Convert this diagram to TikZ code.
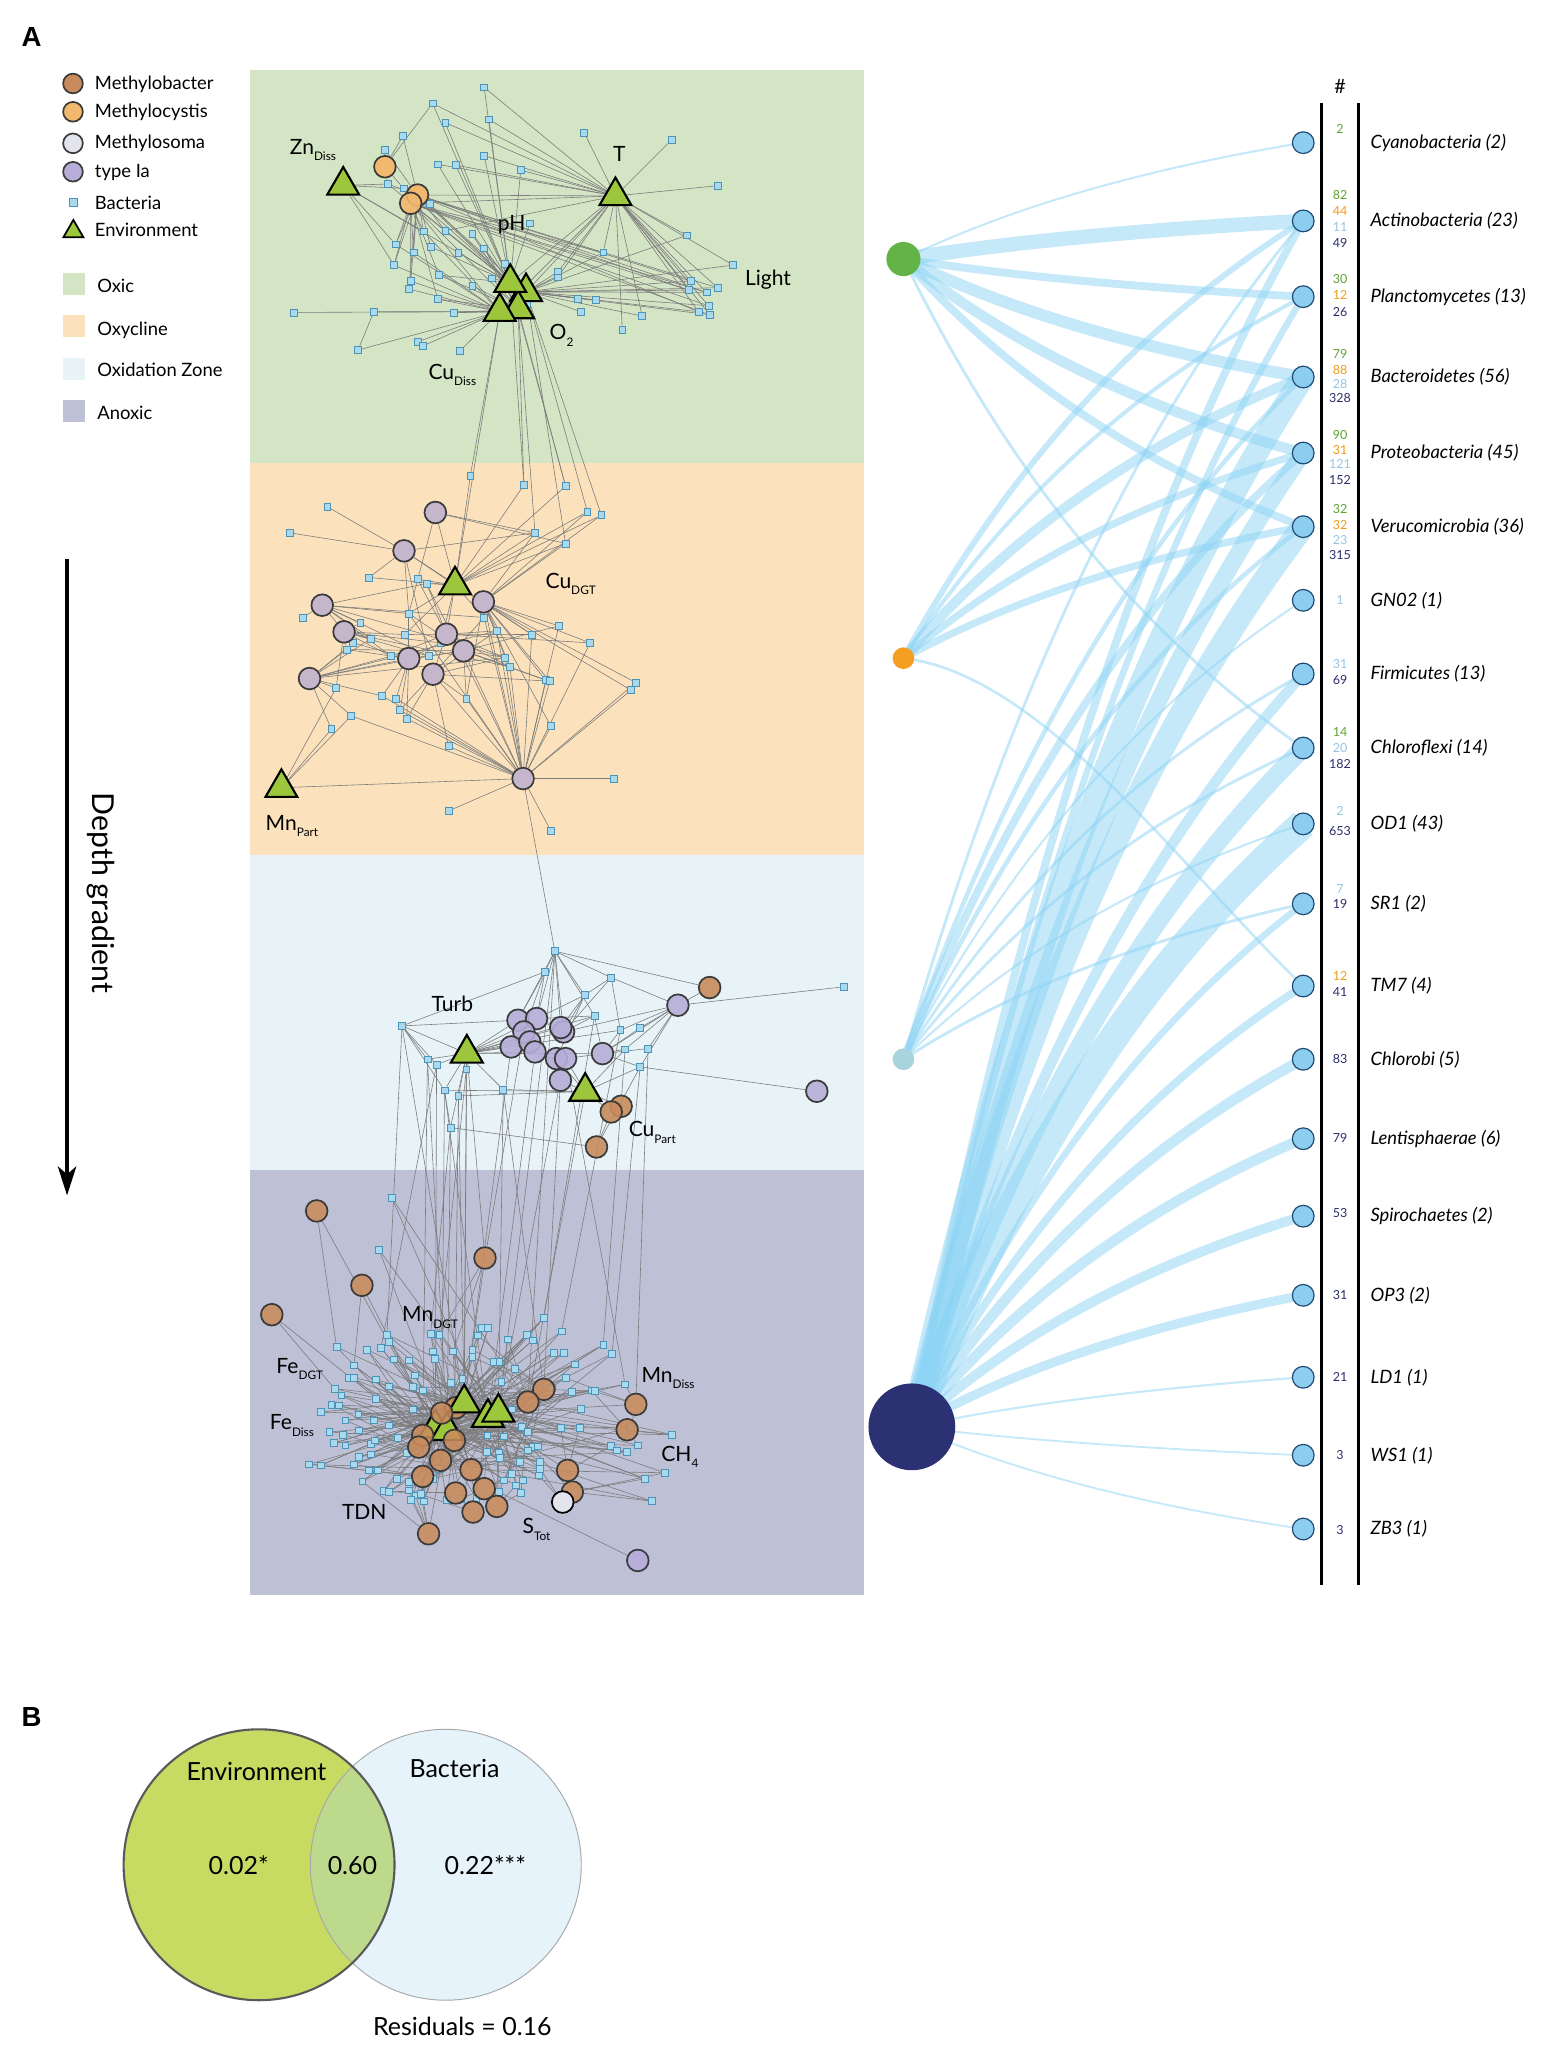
\documentclass[tikz,border=0pt]{standalone}
\usepackage{fontspec}
\setmainfont{Lato}
\newfontfamily\headfont{Liberation Sans}
\usetikzlibrary{shapes.geometric,arrows.meta,calc}
\pgfdeclarelayer{bg}
\pgfdeclarelayer{netlines}
\pgfsetlayers{bg,netlines,main}
\definecolor{oxic}{HTML}{D3E5C4}
\definecolor{oxyc}{HTML}{FCE2BC}
\definecolor{oxid}{HTML}{E7F3F7}
\definecolor{anox}{HTML}{BEC1D6}
\definecolor{mbac}{HTML}{C98B5C}
\definecolor{mcys}{HTML}{F2B86D}
\definecolor{msom}{HTML}{E3E3EE}
\definecolor{typeIa}{HTML}{B6AED8}
\definecolor{oxyccirc}{HTML}{C6B6CC}
\definecolor{envg}{HTML}{9CC63B}
\definecolor{bfill}{HTML}{A9D9EC}
\definecolor{bdraw}{HTML}{4D93B8}
\definecolor{egray}{HTML}{7C7C7C}
\definecolor{bipc}{HTML}{8DD3F4}
\definecolor{phyf}{HTML}{8DCEF0}
\definecolor{phyd}{HTML}{1E4A73}
\definecolor{hubG}{HTML}{63B446}
\definecolor{hubO}{HTML}{F49F22}
\definecolor{hubL}{HTML}{A8D4DE}
\definecolor{hubN}{HTML}{2B3172}
\definecolor{numG}{HTML}{5DA332}
\definecolor{numO}{HTML}{F09A1A}
\definecolor{numL}{HTML}{95C4E2}
\definecolor{numN}{HTML}{2A2D6A}
\definecolor{venG}{HTML}{C7DB62}
\definecolor{venB}{HTML}{E6F3FA}
\definecolor{venO}{HTML}{BDD98C}
\definecolor{circd}{HTML}{3A3A3A}

\newcommand\fsz[1]{\fontsize{#1}{#1}\selectfont}
\newcommand\sbs[1]{\raisebox{-0.6ex}{\fsz{9}#1}}

\tikzset{
  bact/.style={rectangle, minimum size=5.2pt, inner sep=0pt, fill=bfill, draw=bdraw, line width=0.5pt},
  mcirc/.style={circle, minimum size=16.5pt, inner sep=0pt, draw=circd, line width=1.3pt},
  envtri/.style={regular polygon, regular polygon sides=3, minimum size=28pt, inner sep=0pt, fill=envg, draw=black, line width=1.6pt},
  gl/.style={draw=egray, line width=0.45pt},
  bipline/.style={draw=bipc, draw opacity=0.5},
  phy/.style={circle, minimum size=16.5pt, inner sep=0pt, fill=phyf, draw=phyd, line width=0.9pt},
  hub/.style={circle, inner sep=0pt},
  lab/.style={font=\fsz{16}, inner sep=0pt},
  leg/.style={font=\fsz{14}, anchor=west, inner sep=0pt},
  phylab/.style={font=\fsz{14}\itshape, anchor=west, inner sep=0pt},
  num/.style={font=\fsz{9.5}, inner sep=0pt},
  vtxt/.style={font=\fsz{19}, inner sep=0pt},
  swatch/.style={minimum width=16.7pt, minimum height=16.8pt, inner sep=0pt},
}
\newcommand\edgefan[3]{\foreach \nn in {#3} \draw[gl] (#1) -- (#2\nn);}
\newcommand\bipedge[3]{%
  \draw[bipline, line width=#3pt] let \p1=(#1.center), \p2=(#2.center) in
    (\p1) .. controls ({\x1+0.3*(\x2-\x1)},{\y1+0.5*(\y2-\y1)}) and ({\x2-0.35*(\x2-\x1)},{\y2-0.2*(\y2-\y1)}) .. (\p2);}

\begin{document}
\begin{tikzpicture}[x=1pt,y=-1pt]
\useasboundingbox (0,0) rectangle (1188,1568);

% ---------- zone panels ----------
\begin{pgfonlayer}{bg}
\fill[oxic] (190,53) rectangle (657,352);
\fill[oxyc] (190,352) rectangle (657,650);
\fill[oxid] (190,650) rectangle (657,890);
\fill[anox] (190,890) rectangle (657,1213);
\end{pgfonlayer}

% ---------- panel labels ----------
\node[font=\headfont\bfseries\fsz{21}, inner sep=0pt] (labA) at (24,28) {A};
\node[font=\headfont\bfseries\fsz{21}, inner sep=0pt] (labB) at (24,1306) {B};

% ---------- legend ----------
\node[mcirc, fill=mbac, minimum size=15pt] (lg1) at (55.5,63.5) {};
\node[leg] (lgt1) at (72,64) {Methylobacter};
\node[mcirc, fill=mcys, minimum size=15pt] (lg2) at (55.5,85) {};
\node[leg] (lgt2) at (72,85.5) {Methylocystis};
\node[mcirc, fill=msom, minimum size=15pt] (lg3) at (55.5,109) {};
\node[leg] (lgt3) at (72,109) {Methylosoma};
\node[mcirc, fill=typeIa, minimum size=15pt] (lg4) at (55.5,130.6) {};
\node[leg] (lgt4) at (72,131) {type Ia};
\node[bact, minimum size=6.5pt] (lg5) at (55.8,154) {};
\node[leg] (lgt5) at (72,154) {Bacteria};
\node[envtri, minimum size=17.5pt, line width=1.3pt] (lg6) at (55.8,176) {};
\node[leg] (lgt6) at (72,174.5) {Environment};
\node[swatch, fill=oxic] (sw1) at (56.3,216) {};
\node[leg] (swt1) at (73.8,217.5) {Oxic};
\node[swatch, fill=oxyc] (sw2) at (56.3,248) {};
\node[leg] (swt2) at (73.8,251) {Oxycline};
\node[swatch, fill=oxid] (sw3) at (56.3,280.6) {};
\node[leg] (swt3) at (73.8,281) {Oxidation Zone};
\node[swatch, fill=anox] (sw4) at (56.3,312.6) {};
\node[leg] (swt4) at (73.8,314) {Anoxic};

% ---------- depth gradient ----------
\coordinate (dgTop) at (51,425);
\coordinate (dgBot) at (51,909);
\draw[line width=2.6pt, -{Stealth[length=22pt, width=14pt, inset=6pt]}] (dgTop) -- (dgBot);
\node[rotate=-90, font=\fsz{23}, inner sep=0pt] (dgText) at (77,679) {Depth gradient};

% =============== OXIC ===============
\foreach \a/\b [count=\i] in {590/82,460/130,492/188,602/178,385/228,340/270,842/218,1062/240,473/313,518/315,590/287,682/330,1178/377,347/372,387/385,453/432,705/490,1100/526,437/514,492/512,560/522,367/553,412/577,455/560,525/578,590/565,890/577,1217/615,363/615,476/645,610/655,642/612,776/635,775/652,405/663,400/687,560/677,1110/663,1105/690,1150/697,1178/683,473/717,826/715,872/720,698/730,110/757,312/755,513/758,833/755,988/768,1155/737,1130/755,1158/764,938/808,272/870,423/845,435/858,528/873}
  \node[bact] (ox\i) at ({190.1+\a/3.313},{45.63+\b/3.944}) {};
\node[mcirc, fill=mcys] (mc1) at (292.7,126.8) {};
\node[mcirc, fill=mcys] (mc2) at (317.5,148.3) {};
\node[mcirc, fill=mcys, fill opacity=0.9] (mc3) at (312.3,154.6) {};
\node[envtri] (tZn) at (261,141) {};
\node[envtri] (tT) at (468,149) {};
\node[envtri] (tLi) at (400,222) {};
\node[envtri] (tCu) at (394,235) {};
\node[envtri] (tpH) at (388,215) {};
\node[envtri] (tO2) at (380,237) {};
\node[lab] (lZn) at (238,114) {Zn\sbs{Diss}};
\node[lab] (lT) at (471,117) {T};
\node[lab] (lpH) at (389,171) {pH};
\node[lab] (lLight) at (584,213) {Light};
\node[lab] (lO2) at (427,255) {O\sbs{2}};
\node[lab] (lCuD) at (344,285) {Cu\sbs{Diss}};

% =============== OXYCLINE ===============
\foreach \a/\b [count=\i] in {555/47,690/75,795/78,850/155,885/165,195/140,100/218,718/218,795/250,300/352,422/357,445/370,400/460,590/472,133/472,278/488,778/497,622/512,710/523,390/523,305/535,260/548,857/548,243/568,480/548,355/588,450/588,643/592,655/620,745/660,755/663,972/667,960/690,217/683,333/707,368/715,545/715,378/750,395/775,255/767,205/807,758/798,500/858,917/955,500/1052,758/1112}
  \node[bact] (s\i) at ({190.1+\a/3.313},{349.9+\b/3.944}) {};
\foreach \a/\b [count=\i] in {467/157,388/272,588/425,182/435,237/515,495/522,538/572,400/595,461/642,150/655,688/955}
  \node[mcirc, fill=oxyccirc] (oc\i) at ({190.1+\a/3.313},{349.9+\b/3.944}) {};
\node[envtri] (tCuDGT) at (346,445) {};
\node[envtri] (tMnP) at (214,599) {};
\node[lab] (lCuDGT) at (434,444) {Cu\sbs{DGT}};
\node[lab] (lMnP) at (222,628) {Mn\sbs{Part}};

% =============== OXIDATION ZONE ===============
\foreach \a/\b [count=\i] in {768/303,743/365,910/382,843/435,868/497,383/527,933/540,983/533,945/597,1003/595,983/650,1495/410,447/627,470/643,545/657,490/720,525/737,638/718,505/832}
  \node[bact] (q\i) at ({190.1+\a/3.313},{646.5+\b/3.944}) {};
\foreach \a/\b [count=\i] in {675/510,722/505,690/545,658/590,705/575,718/605,772/625,795/625,790/545,888/610,782/690,1078/465,1428/723,783/532}
  \node[mcirc, fill=typeIa, fill opacity=0.9] (pc\i) at ({190.1+\a/3.313},{646.5+\b/3.944}) {};
\foreach \a/\b [count=\i] in {1158/412,935/768,910/785,873/890}
  \node[mcirc, fill=mbac, fill opacity=0.9] (oo\i) at ({190.1+\a/3.313},{646.5+\b/3.944}) {};
\node[envtri] (tTurb) at (355,801) {};
\node[envtri] (tCuP) at (445,830) {};
\node[lab] (lTurb) at (344,763) {Turb};
\node[lab] (lCuP) at (496,861) {Cu\sbs{Part}};

% =============== ANOXIC ===============
\foreach \a/\b [count=\i] in {357/112,325/268,740/473,585/503,600/503,455/520,477/523,573/525,345/523,350/545,218/560,295/568,330/562,460/573,512/573,560/568,650/537,698/523,712/540,785/513,890/553,912/580,465/595,560/590,613/605,628/605,765/577,790/577,262/615,362/597,400/600,667/625,818/612,250/652,262/652,318/657,350/678,415/645,435/690,410/680,505/668,535/655,633/665,795/653,760/683,810/695,860/690,868/692,945/672,213/685,230/705,205/733,223/735,318/715,410/747,178/755,273/762,312/780,350/795,240/780,200/815,233/823,212/848,240/855,275/810,373/832,305/850,315/840,275/890,305/882,395/878,660/747,685/800,700/815,783/803,833/745,830/802,960/800,598/825,640/828,1063/823,910/857,925/870,950/875,978/855,712/860,725/858,700/870,597/875,627/877,630/893,680/905,730/905,148/912,178/915,262/912,300/930,323/930,283/963,370/955,400/965,460/955,475/925,640/960,660/940,688/960,670/975,730/925,728/945,1045/937,995/955,400/990,417/1005,430/1000,337/992,350/995,495/1018,532/1015,570/1015,627/995,683/998,406/1018,437/1023,1012/1022}
  \node[bact] (an\i) at ({190.1+\a/3.313},{882.3+\b/3.944}) {};
\node[mcirc, fill=mbac, fill opacity=0.9] (ao23) at (346.5,1070.5) {};
\node[envtri] (ta5) at (331,1086) {};
\node[envtri] (ta4) at (340,1088) {};
\node[envtri] (ta1) at (353,1067) {};
\node[envtri] (ta2) at (371,1078) {};
\node[envtri] (ta3) at (379,1074) {};
\foreach \x/\y [count=\i] in {240.8/920.8,275.2/977.4,206.7/999.7,368.8/956.6,413.5/1056.5,401.4/1066.1,483.5/1067.9,476.9/1087.2,335.9/1074.5,321.4/1091.5,318.4/1100.4,335.0/1110.5,345.5/1095.3,431.6/1118.1,435.2/1134.6,321.4/1122.7,358.2/1117.6,368.2/1132.0,346.5/1135.3,359.7/1149.8,377.8/1145.5,325.9/1166.3}
  \node[mcirc, fill=mbac, fill opacity=0.88] (ao\i) at (\x,\y) {};
\node[mcirc, fill=msom, draw=black] (aw) at (427.9,1142.2) {};
\node[mcirc, fill=typeIa] (ap) at (485,1186.6) {};
\node[lab] (lMnDGT) at (327,1002) {Mn\sbs{DGT}};
\node[lab] (lFeDGT) at (228,1041) {Fe\sbs{DGT}};
\node[lab] (lFeD) at (222,1084) {Fe\sbs{Diss}};
\node[lab] (lTDN) at (277,1150) {TDN};
\node[lab] (lSTot) at (408,1163) {S\sbs{Tot}};
\node[lab] (lMnD) at (508,1048) {Mn\sbs{Diss}};
\node[lab] (lCH4) at (517,1108) {CH\sbs{4}};

% =============== NETWORK EDGES ===============
\begin{pgfonlayer}{netlines}
% oxic
\edgefan{tT}{ox}{7,8,13,11,12,9,10,18,27,28,38,39,40,41,51,52,53,54,50,33,34,20,4,1,3,2}
\edgefan{tT}{}{mc2,mc3,tpH,tLi,tO2}
\edgefan{tpH}{ox}{1,2,3,4,9,10,11,12,17,20,21,24,25,26,30,31,32,14,15,16}
\edgefan{tO2}{ox}{29,35,36,42,46,47,48,55,56,57,58,22,23,19}
\edgefan{tLi}{ox}{33,34,43,44,49,50,38,39,40,41,51,52,53,27,28,18}
\edgefan{tCu}{ox}{37,45,31,32,21,26,30,48,42}
\edgefan{mc2}{ox}{5,6,14,15,16,19,22,23,29,35,36,20,24,38,39,40,41,52}
\edgefan{mc2}{}{tpH,tLi}
\edgefan{mc3}{ox}{15,16,19,22,23,29,35,42,30,51,53,27,39,40}
\edgefan{mc3}{}{tO2,tCu,tpH}
\edgefan{mc1}{ox}{5,6,14,2,15}
\edgefan{tZn}{ox}{14,15,22,29,19}
\edgefan{tZn}{}{tpH}
\edgefan{ox55}{ox}{47}
% oxic -> oxycline
\edgefan{tO2}{s}{1}
\edgefan{tO2}{}{tCuDGT}
\edgefan{tCu}{s}{2,3,8}
\edgefan{tLi}{s}{4,5,9}
\edgefan{tpH}{s}{2,3}
% oxycline
\edgefan{tCuDGT}{s}{1,2,3,4,5,8,9,11,12,10,13,14,20,25}
\edgefan{tCuDGT}{}{oc2,oc3,oc6}
\edgefan{oc1}{s}{8,9,13}
\edgefan{oc1}{}{tCuDGT}
\edgefan{oc2}{s}{6,7,8,10,13,19,27}
\edgefan{oc3}{s}{9,8,14,17,19,23,18,28,29,30,31,42,37,33,32,4,5}
\edgefan{oc4}{s}{15,16,13,14,21,22,26,27,28,12}
\edgefan{oc5}{s}{16,21,24,25,26,27,29,20,34}
\edgefan{oc6}{s}{18,19,20,25,26,28,29,12,11,23}
\edgefan{oc6}{}{oc7,oc9}
\edgefan{oc7}{s}{28,29,30,31,37,13,27,24,17}
\edgefan{oc7}{}{oc8}
\edgefan{oc8}{s}{35,36,38,39,25,26,13,22,24}
\edgefan{oc8}{}{oc10}
\edgefan{oc9}{s}{37,38,39,43,14,18,28,31}
\edgefan{oc9}{}{oc11}
\edgefan{oc10}{s}{34,40,41,22,24,26,35,27,28,18,21}
\edgefan{oc11}{s}{14,17,18,19,28,29,30,31,37,42,43,33,32,44,45,46,38,39,36,35,40,23,12,13}
\edgefan{oc11}{}{tMnP,oc3,oc7}
\edgefan{tMnP}{s}{41,34,40}
% oxycline -> oxidation
\edgefan{oc11}{q}{1}
% oxidation
\edgefan{q1}{q}{2,3,4,5}
\edgefan{q1}{}{oo1,pc1,pc2,pc9,pc14}
\edgefan{q2}{}{pc1,pc3,pc2,q6}
\edgefan{q3}{}{q4,pc9,q7,pc12}
\edgefan{q4}{}{pc2,pc9,pc7,pc14}
\edgefan{pc12}{q}{12,7,8,9,10,11}
\edgefan{pc12}{}{oo1,pc9,pc10}
\edgefan{q11}{}{pc13,pc10,tCuP}
\edgefan{q6}{}{tTurb,pc1,q13,q14,q16}
\edgefan{tTurb}{pc}{1,2,3,4,5,6,9,10,14}
\edgefan{tTurb}{q}{5,7,13,14,15,16,17,18}
\edgefan{tCuP}{}{pc11,pc7,pc8,oo2,oo3,q18,q17,q16,q9}
\edgefan{oo4}{}{oo3,q11,q19}
\edgefan{pc10}{}{q7,q8,q9,q10,pc8}
\edgefan{pc1}{pc}{5,3}
\edgefan{pc2}{pc}{9,14}
\edgefan{pc4}{pc}{6}
\edgefan{pc7}{pc}{8,11}
\edgefan{q5}{pc}{9,2,10}
\edgefan{q19}{}{q16,tTurb}
% oxidation -> anoxic
\edgefan{q6}{}{ta1,an9}
\edgefan{q13}{}{ta4,ao10}
\edgefan{q14}{}{ta5,an13}
\edgefan{q15}{}{ta1,an7}
\edgefan{q16}{}{ta2,ao9}
\edgefan{q17}{}{ta1,ao13}
\edgefan{q18}{}{ta3,ao5}
\edgefan{q19}{}{ta4,an6}
\edgefan{tTurb}{}{ta1,ao4}
\edgefan{q1}{}{ta3,ao6}
\edgefan{pc4}{}{ta1}
\edgefan{pc6}{}{ta2}
\edgefan{pc11}{}{ao5,ta3}
\edgefan{tCuP}{}{ao6}
\edgefan{q9}{}{an21}
\edgefan{q11}{}{an22}
\edgefan{q10}{}{ao7}
\edgefan{pc8}{}{an49}
\edgefan{q7}{}{an20}
\edgefan{q5}{}{an3}
\edgefan{pc3}{}{ao4}
% anoxic dense core
\foreach \i in {1,...,124}{
  \pgfmathtruncatemacro\k{mod(\i,5)+1}
  \draw[gl] (ta\k) -- (an\i);
  \pgfmathtruncatemacro\m{{5,6,9,10,12,13,17,23}[mod(\i,8)]}
  \draw[gl] (ao\m) -- (an\i);
}
\foreach \i in {3,6,...,123}{
  \pgfmathtruncatemacro\k{mod(\i+2,5)+1}
  \draw[gl] (ta\k) -- (an\i);
}
\edgefan{ao1}{}{ta5,an11}
\edgefan{ao2}{}{ta5,an29}
\edgefan{ao3}{}{ao10,an50}
\edgefan{ao4}{}{ta1,an7,an15}
\edgefan{ao7}{an}{49,78,44,47}
\edgefan{ao7}{}{ta3}
\edgefan{ao8}{an}{81,78,47,85}
\edgefan{ao8}{}{ta3}
\edgefan{ao14}{an}{77,75,82}
\edgefan{ao14}{}{ta2}
\edgefan{ao15}{an}{110,111,124}
\edgefan{ao15}{}{ta3}
\edgefan{ao16}{an}{94,95,96,97}
\edgefan{ao16}{}{ta4}
\edgefan{ao18}{an}{104,105,118}
\edgefan{ao18}{}{ta2}
\edgefan{ao19}{an}{115,116,117}
\edgefan{ao19}{}{ta4}
\edgefan{ao20}{an}{118,119,112}
\edgefan{ao20}{}{ta2}
\edgefan{ao21}{an}{120,121,107}
\edgefan{ao21}{}{ta3}
\edgefan{ao22}{an}{112,113,114,122,123,99}
\edgefan{ao22}{}{ta4}
\edgefan{ap}{an}{120}
\edgefan{aw}{an}{109,108}
\edgefan{aw}{}{ao15}
\end{pgfonlayer}

% =============== RIGHT: PHYLA ===============
\draw[line width=2pt] (1005,78) -- (1005,1205);
\draw[line width=2pt] (1033,78) -- (1033,1205);
\node[font=\fsz{15}, inner sep=0pt] (hash) at (1019,66) {\#};
\foreach \y/\nm [count=\i] in {108.5/{Cyanobacteria (2)},168/{Actinobacteria (23)},225.6/{Planctomycetes (13)},286.7/{Bacteroidetes (56)},344.5/{Proteobacteria (45)},400.5/{Verucomicrobia (36)},456.5/{GN02 (1)},512.5/{Firmicutes (13)},568.8/{Chloroflexi (14)},626.5/{OD1 (43)},687.3/{SR1 (2)},749.8/{TM7 (4)},805.5/{Chlorobi (5)},865.9/{Lentisphaerae (6)},924.8/{Spirochaetes (2)},985/{OP3 (2)},1047.3/{LD1 (1)},1106.6/{WS1 (1)},1162.7/{ZB3 (1)}}{
  \node[phy] (p\i) at (991,\y) {};
  \node[phylab] (pl\i) at (1042,\y) {\nm};
}
% counts
\foreach \y/\t/\c [count=\i] in {98/2/numG,
  148/82/numG,160.5/44/numO,173/11/numL,185/49/numN,
  212/30/numG,224.5/12/numO,237/26/numN,
  269/79/numG,281/88/numO,292/28/numL,303/328/numN,
  331/90/numG,342/31/numO,353/121/numL,365/152/numN,
  387/32/numG,399/32/numO,410.5/23/numL,422/315/numN,
  456.5/1/numL,
  505/31/numL,517/69/numN,
  557/14/numG,569/20/numL,581/182/numN,
  617/2/numL,632/653/numN,
  676/7/numL,687.5/19/numN,
  742/12/numO,754.5/41/numN,
  805.5/83/numN,865.5/79/numN,922.5/53/numN,985/31/numN,1047/21/numN,1106.5/3/numN,1163.5/3/numN}
  \node[num, text=\c] (cnt\i) at (1019,\y) {\t};

% hubs
\node[hub, fill=hubG, minimum size=26pt] (hG) at (687,197) {};
\node[hub, fill=hubO, minimum size=16.5pt] (hO) at (687,500.5) {};
\node[hub, fill=hubL, minimum size=16.5pt] (hL) at (687,805.5) {};
\node[hub, fill=hubN, minimum size=66pt] (hN) at (693.4,1085) {};

\begin{pgfonlayer}{netlines}
\bipedge{hG}{p1}{1.6}
\bipedge{hG}{p2}{11}
\bipedge{hG}{p3}{6}
\bipedge{hG}{p4}{9}
\bipedge{hG}{p5}{8}
\bipedge{hG}{p6}{6}
\bipedge{hG}{p9}{2.2}
\bipedge{hO}{p2}{4.5}
\bipedge{hO}{p3}{3}
\bipedge{hO}{p4}{7.5}
\bipedge{hO}{p5}{5.5}
\bipedge{hO}{p6}{5.5}
\draw[bipline, line width=2pt] let \p1=(hO.center), \p2=(p12.center) in
  (\p1) .. controls ({\x1+0.35*(\x2-\x1)},{\y1+0.05*(\y2-\y1)}) and ({\x2-0.3*(\x2-\x1)},{\y2-0.35*(\y2-\y1)}) .. (\p2);
\bipedge{hL}{p2}{2.2}
\bipedge{hL}{p4}{3.5}
\bipedge{hL}{p5}{6}
\bipedge{hL}{p6}{3.5}
\bipedge{hL}{p7}{1.6}
\bipedge{hL}{p8}{2.2}
\bipedge{hL}{p9}{2.2}
\bipedge{hL}{p10}{1.6}
\bipedge{hL}{p11}{2.2}
\bipedge{hN}{p2}{6}
\bipedge{hN}{p3}{5}
\bipedge{hN}{p4}{18}
\bipedge{hN}{p5}{13}
\bipedge{hN}{p6}{18}
\bipedge{hN}{p8}{8}
\bipedge{hN}{p9}{14}
\bipedge{hN}{p10}{22}
\bipedge{hN}{p11}{5}
\bipedge{hN}{p12}{6}
\bipedge{hN}{p13}{8}
\bipedge{hN}{p14}{8}
\bipedge{hN}{p15}{7.5}
\bipedge{hN}{p16}{7}
\bipedge{hN}{p17}{1.6}
\bipedge{hN}{p18}{1.4}
\bipedge{hN}{p19}{1.4}
\end{pgfonlayer}

% =============== B: VENN ===============
\fill[venG] (197,1418) circle (103pt);
\fill[venB] (339,1418) circle (103pt);
\begin{scope}
  \clip (197,1418) circle (103pt);
  \fill[venO] (339,1418) circle (103pt);
\end{scope}
\draw[draw=black!35, line width=0.7pt] (339,1418) circle (103pt);
\draw[draw=black!65, line width=1.6pt] (197,1418) circle (103pt);
\node[vtxt] (vE) at (195,1347) {Environment};
\node[vtxt] (vB) at (345.6,1345) {Bacteria};
\node[vtxt] (v1) at (181.5,1418.5) {0.02*};
\node[vtxt] (v2) at (268,1418.5) {0.60};
\node[vtxt] (v3) at (369,1418.5) {0.22***};
\node[vtxt] (v4) at (351.6,1541) {Residuals = 0.16};
\end{tikzpicture}
\end{document}
